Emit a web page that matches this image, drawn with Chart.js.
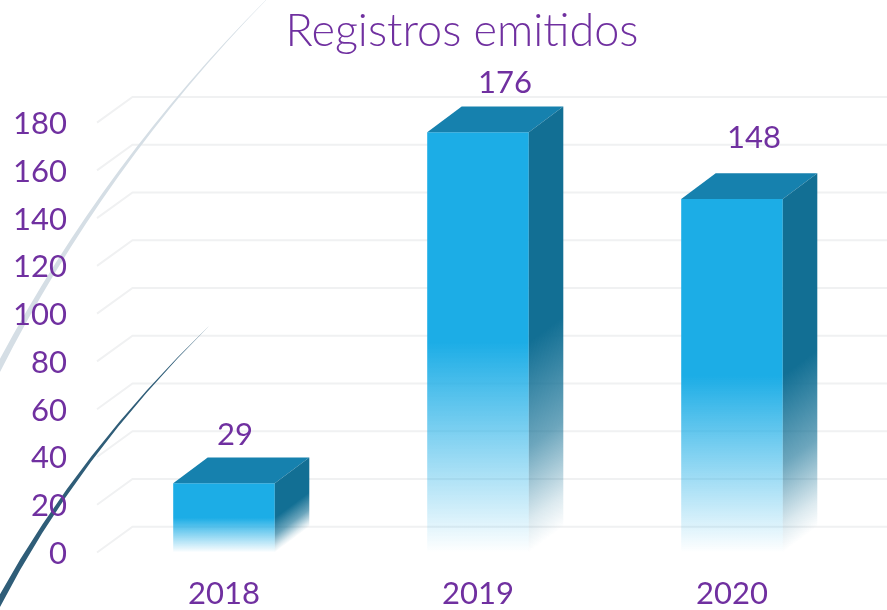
<!DOCTYPE html>
<html>
<head>
<meta charset="utf-8">
<style>
html,body{margin:0;padding:0;background:#fff;}
#wrap{width:887px;height:610px;position:relative;}
</style>
<script src="https://cdn.jsdelivr.net/npm/chart.js@4"></script>
</head>
<body>
<div id="wrap"><canvas id="c" width="887" height="610"></canvas></div>
<script>
const chartTitle = 'Registros emitidos';
const years = ['2018', '2019', '2020'];
const registros = [29, 176, 148];
const yMax = 180;
const yStep = 20;

const PURPLE = '#7030a0';
const DX = 34.5, DY = 25.7;

function frontFill(ctx) {
  if (ctx.type !== 'data' || !ctx.parsed) return '#1cade6';
  const y = ctx.chart.scales.y;
  const top = y.getPixelForValue(ctx.parsed.y);
  const bot = y.getPixelForValue(0);
  if (!isFinite(top) || !isFinite(bot)) return '#1cade6';
  const g = ctx.chart.ctx.createLinearGradient(0, top, 0, bot);
  g.addColorStop(0, '#1cade6');
  g.addColorStop(0.5, '#1cade6');
  g.addColorStop(0.75, 'rgba(28,173,230,0.5)');
  g.addColorStop(1, 'rgba(28,173,230,0)');
  return g;
}

function taper(c, p0, q, p1, w0, color) {
  c.beginPath();
  c.moveTo(p0[0] - w0 / 2, p0[1] - w0 / 4);
  c.quadraticCurveTo(q[0] - w0 / 4, q[1] - w0 / 8, p1[0], p1[1]);
  c.quadraticCurveTo(q[0] + w0 / 4, q[1] + w0 / 8, p0[0] + w0 / 2, p0[1] + w0 / 4);
  c.closePath();
  c.fillStyle = color;
  c.fill();
}

const backdrop = {
  id: 'backdrop',
  afterLayout(chart) {
    // y tick labels are clipped to the scale box: let the box reach the page edge
    chart.scales.y.left = 0;
  },
  beforeDraw(chart) {
    const c = chart.ctx, y = chart.scales.y, a = chart.chartArea;
    c.save();
    c.strokeStyle = '#f0f1f2';
    c.lineWidth = 2;
    y.ticks.forEach(t => {
      const py = y.getPixelForValue(t.value);
      c.beginPath();
      c.moveTo(a.left, py);
      c.lineTo(a.left + DX + 1, py - DY);
      c.lineTo(chart.width, py - DY);
      c.stroke();
    });
    taper(c, [-5, 375], [106, 157.5], [282, -16], 5.5, '#d5dee5');
    taper(c, [-3, 606], [76, 456.5], [209, 326], 5.5, '#2f5d78');
    c.restore();
  }
};

const box3d = {
  id: 'box3d',
  afterDatasetsDraw(chart) {
    const c = chart.ctx, y = chart.scales.y;
    const bot = y.getPixelForValue(0);
    chart.getDatasetMeta(0).data.forEach((b, i) => {
      const half = b.width / 2;
      const l = b.x - half, r = b.x + half, t = b.y;
      c.save();
      // top face
      c.beginPath();
      c.moveTo(l, t); c.lineTo(l + DX, t - DY); c.lineTo(r + DX, t - DY); c.lineTo(r, t); c.closePath();
      c.fillStyle = '#1681ae';
      c.fill();
      // side face: the fade runs parallel to the slanted bottom edge
      const h = bot - t;
      const norm = Math.hypot(DX, DY), nx = DY / norm, ny = DX / norm;
      const ax = r, ay = bot - h / 2, d = ny * h / 2;
      const g = c.createLinearGradient(ax, ay, ax + nx * d, ay + ny * d);
      g.addColorStop(0, '#126f94');
      g.addColorStop(0.5, 'rgba(18,111,148,0.62)');
      g.addColorStop(0.85, 'rgba(18,111,148,0.15)');
      g.addColorStop(1, 'rgba(18,111,148,0)');
      c.beginPath();
      c.moveTo(r, t); c.lineTo(r + DX, t - DY); c.lineTo(r + DX, bot - DY); c.lineTo(r, bot); c.closePath();
      c.fillStyle = g;
      c.fill();
      c.restore();
      // value label
      const nudge = [[11, -48], [27, -49], [22, -61]][i];
      c.save();
      c.font = '31px Lato';
      c.fillStyle = PURPLE;
      c.textAlign = 'center';
      c.textBaseline = 'middle';
      c.fillText(String(registros[i]), b.x + nudge[0], t + nudge[1]);
      c.restore();
    });
  }
};

new Chart(document.getElementById('c'), {
  type: 'bar',
  data: {
    labels: years,
    datasets: [{
      data: registros,
      backgroundColor: frontFill,
      borderWidth: 0,
      categoryPercentage: 1,
      barPercentage: 0.4
    }]
  },
  options: {
    responsive: false,
    animation: false,
    devicePixelRatio: 1,
    layout: { padding: { left: 65, right: 28, top: 0, bottom: 0 } },
    plugins: {
      legend: { display: false },
      tooltip: { enabled: false },
      title: {
        display: true,
        text: chartTitle,
        color: PURPLE,
        font: { family: 'Lato', size: 45, weight: 300, lineHeight: 1.2 },
        padding: { top: 4, bottom: 64.6 }
      }
    },
    scales: {
      x: {
        grid: { display: false },
        border: { display: false },
        ticks: { color: PURPLE, font: { family: 'Lato', size: 31 }, padding: 15, maxRotation: 0 },
        afterFit(s) { s.height = 57.5; }
      },
      y: {
        min: 0,
        max: yMax,
        grid: { display: false },
        border: { display: false },
        ticks: { stepSize: yStep, color: PURPLE, font: { family: 'Lato', size: 31 }, padding: 22, labelOffset: 1.5 },
        afterFit(s) { s.width = 32; }
      }
    }
  },
  plugins: [backdrop, box3d]
});
</script>
</body>
</html>
